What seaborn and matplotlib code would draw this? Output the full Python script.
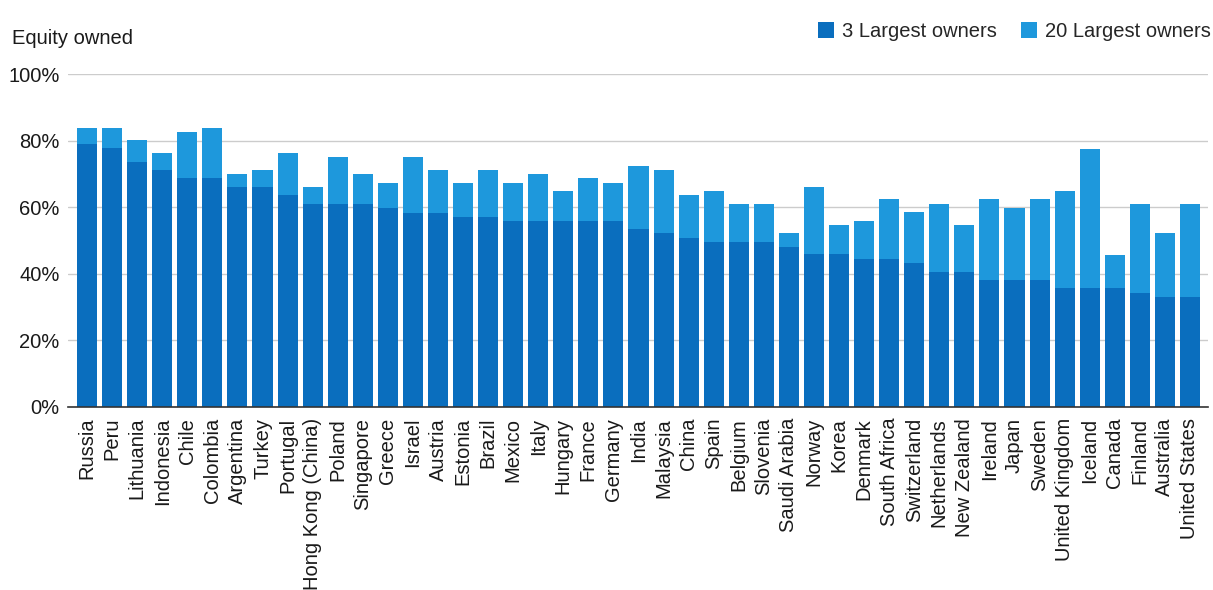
import matplotlib
matplotlib.use("Agg")
import matplotlib.pyplot as plt
from matplotlib.patches import Patch
import seaborn as sns
import pandas as pd

countries = ["Russia", "Peru", "Lithuania", "Indonesia", "Chile", "Colombia", "Argentina",
             "Turkey", "Portugal", "Hong Kong (China)", "Poland", "Singapore", "Greece",
             "Israel", "Austria", "Estonia", "Brazil", "Mexico", "Italy", "Hungary", "France",
             "Germany", "India", "Malaysia", "China", "Spain", "Belgium", "Slovenia",
             "Saudi Arabia", "Norway", "Korea", "Denmark", "South Africa", "Switzerland",
             "Netherlands", "New Zealand", "Ireland", "Japan", "Sweden", "United Kingdom",
             "Iceland", "Canada", "Finland", "Australia", "United States"]

top3 = [78.9, 77.7, 73.5, 71.1, 68.6, 68.6, 66.0, 66.0, 63.6, 60.9, 60.9, 60.9, 59.6,
        58.3, 58.1, 56.9, 56.9, 55.7, 55.7, 55.7, 55.7, 55.7, 53.3, 52.1, 50.8, 49.6,
        49.6, 49.6, 48.1, 45.8, 45.8, 44.3, 44.3, 43.1, 40.6, 40.6, 38.1, 38.1, 38.1,
        35.6, 35.6, 35.6, 34.1, 32.9, 32.9]

top20 = [83.9, 83.9, 80.2, 76.3, 82.7, 83.9, 69.8, 71.2, 76.3, 66.0, 75.1, 69.8, 67.3,
         75.1, 71.1, 67.3, 71.1, 67.3, 69.8, 64.8, 68.6, 67.3, 72.3, 71.1, 63.5, 64.8,
         61.0, 61.0, 52.1, 66.0, 54.6, 55.9, 62.3, 58.4, 61.0, 54.6, 62.3, 59.8, 62.3,
         64.8, 77.6, 45.7, 61.0, 52.1, 61.0]

series_names = ["3 Largest owners", "20 Largest owners"]
y_ticks = [0, 20, 40, 60, 80, 100]
y_tick_labels = ["0%", "20%", "40%", "60%", "80%", "100%"]

DARK = "#0a6ebe"
LIGHT = "#1e98dc"

df = pd.DataFrame({"country": countries, "top3": top3, "top20": top20})

sns.set_theme(style="white")
plt.rcParams["font.family"] = ["Liberation Sans", "DejaVu Sans"]

fig = plt.figure(figsize=(12.13, 5.9), dpi=100)
ax = fig.add_axes([68 / 1213, 1 - 406.7 / 590, (1208 - 68) / 1213, (406.7 - 74) / 590])

sns.barplot(data=df, x="country", y="top20", color=LIGHT, saturation=1, width=0.8,
            ax=ax, zorder=2)
sns.barplot(data=df, x="country", y="top3", color=DARK, saturation=1, width=0.8,
            ax=ax, zorder=3)
for p in ax.patches:
    p.set_linewidth(0)

ax.set_ylim(0, 100)
ax.set_xlim(-0.76, len(countries) - 1 + 0.72)
ax.set_yticks(y_ticks)
ax.set_yticklabels(y_tick_labels, fontsize=14.5, color="#1a1a1a")
ax.set_xticks(range(len(countries)))
ax.set_xticklabels(countries, rotation=90, fontsize=14.5, color="#1a1a1a")
ax.set_xlabel("")
ax.set_ylabel("")
ax.tick_params(axis="both", length=0)
ax.tick_params(axis="x", pad=8)
ax.tick_params(axis="y", pad=6)
ax.yaxis.grid(True, color="#cccccc", linewidth=1.0, zorder=0)
ax.set_axisbelow(True)
for s in ["top", "right", "left"]:
    ax.spines[s].set_visible(False)
ax.spines["bottom"].set_color("#333333")
ax.spines["bottom"].set_linewidth(1.2)
ax.spines["bottom"].set_zorder(5)

fig.text(12 / 1213, 1 - 38 / 590, "Equity owned", fontsize=14.5, color="#1a1a1a",
         ha="left", va="center")

handles = [Patch(facecolor=DARK, edgecolor="none"), Patch(facecolor=LIGHT, edgecolor="none")]
fig.legend(handles, series_names, loc="upper right", bbox_to_anchor=(1.0, 1 - 20 / 590),
           ncol=2, frameon=False, fontsize=14.5, handlelength=0.8, handleheight=0.8,
           handletextpad=0.4, columnspacing=1.2, borderaxespad=0, borderpad=0.1)

fig.savefig("out.png", dpi=100)
